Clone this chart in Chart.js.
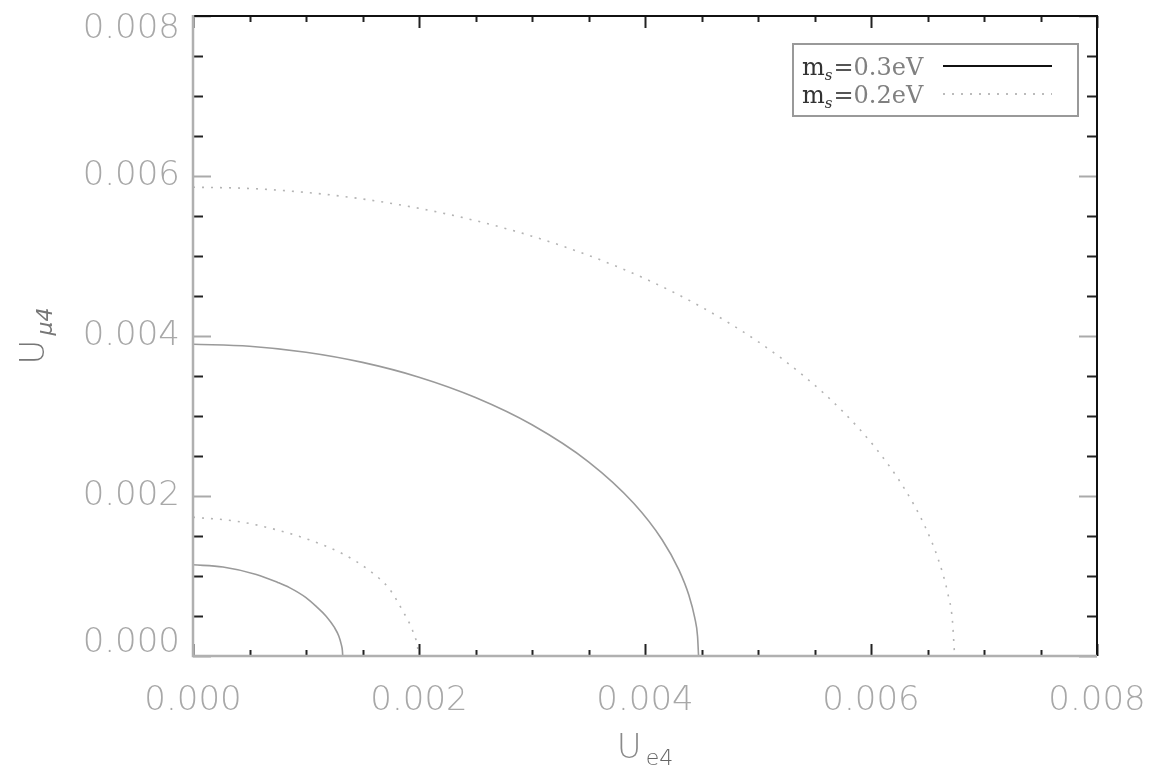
<!DOCTYPE html>
<html>
<head>
<meta charset="utf-8">
<script src="https://cdn.jsdelivr.net/npm/chart.js@4"></script>
<style>
  html, body { margin: 0; padding: 0; background: #fff; }
  #c { display: block; }
</style>
</head>
<body>
<canvas id="c" width="1154" height="767"></canvas>
<script>
// ---- data (values in units of 1e-3) ----
const seriesLabels = ['0.3eV', '0.2eV'];

// m_s = 0.3 eV, inner contour (solid)
const s03InnerX = [0.000, 0.265, 0.560, 0.750, 0.854, 1.000, 1.090, 1.180, 1.250, 1.290, 1.312, 1.322, 1.325];
const s03InnerY = [1.140, 1.113, 1.020, 0.920, 0.855, 0.730, 0.620, 0.495, 0.360, 0.250, 0.145, 0.068, 0.000];

// m_s = 0.3 eV, outer contour (solid)
const s03OuterX = [0.000, 0.500, 1.000, 1.500, 2.000, 2.500, 3.000, 3.500, 3.900, 4.150, 4.300, 4.390, 4.440, 4.465, 4.474];
const s03OuterY = [3.896, 3.872, 3.797, 3.670, 3.485, 3.231, 2.890, 2.427, 1.909, 1.456, 1.076, 0.752, 0.479, 0.247, 0.000];

// m_s = 0.2 eV, inner contour (dotted)
const s02InnerX = [0.000, 0.383, 0.706, 1.030, 1.325, 1.560, 1.737, 1.854, 1.943, 1.987, 1.996];
const s02InnerY = [1.735, 1.685, 1.590, 1.452, 1.277, 1.069, 0.840, 0.569, 0.319, 0.110, 0.000];

// m_s = 0.2 eV, outer contour (dotted)
const s02OuterX = [0.000, 0.500, 1.000, 1.500, 2.000, 2.500, 3.000, 3.500, 4.000, 4.500, 5.000, 5.400, 5.750, 6.050, 6.300, 6.480, 6.600, 6.680, 6.720, 6.740];
const s02OuterY = [5.860, 5.844, 5.795, 5.713, 5.596, 5.442, 5.248, 5.008, 4.717, 4.362, 3.930, 3.507, 3.057, 2.583, 2.083, 1.612, 1.188, 0.780, 0.450, 0.000];

const axisMin = 0, axisMax = 0.008, tickStep = 0.0005;
const tickLabelsShown = ['0.000', '0.002', '0.004', '0.006', '0.008'];

function pts(xs, ys) { return xs.map((x, i) => ({ x: x * 1e-3, y: ys[i] * 1e-3 })); }

const solidStyle = { borderColor: '#9a9a9a', borderWidth: 1.6, borderDash: [] };
const dotStyle = { borderColor: '#b4b4b4', borderWidth: 1.6, borderDash: [2, 7] };

const datasets = [
  Object.assign({ label: seriesLabels[0], data: pts(s03InnerX, s03InnerY) }, solidStyle),
  Object.assign({ label: seriesLabels[0], data: pts(s03OuterX, s03OuterY) }, solidStyle),
  Object.assign({ label: seriesLabels[1], data: pts(s02InnerX, s02InnerY) }, dotStyle),
  Object.assign({ label: seriesLabels[1], data: pts(s02OuterX, s02OuterY) }, dotStyle),
].map(d => Object.assign(d, { showLine: true, pointRadius: 0, fill: false, cubicInterpolationMode: 'monotone' }));

const isMajor = (v) => Math.abs(v / 0.002 - Math.round(v / 0.002)) < 1e-6;

// frame, inward ticks, axis titles, legend
const decor = {
  id: 'decor',
  afterDraw(chart) {
    const ctx = chart.ctx;
    const a = chart.chartArea;
    const xs = chart.scales.x, ys = chart.scales.y;
    ctx.save();
    ctx.textAlign = 'left';
    ctx.textBaseline = 'alphabetic';
    // ticks
    ctx.lineWidth = 2;
    xs.ticks.forEach(t => {
      const p = Math.round(xs.getPixelForValue(t.value)) + 0.5;
      const m = isMajor(t.value);
      ctx.strokeStyle = '#222';
      ctx.beginPath(); ctx.moveTo(p, a.bottom); ctx.lineTo(p, a.bottom - (m ? 12 : 6)); ctx.stroke();
      ctx.beginPath(); ctx.moveTo(p, a.top); ctx.lineTo(p, a.top + (m ? 12 : 6)); ctx.stroke();
    });
    ys.ticks.forEach(t => {
      const p = Math.round(ys.getPixelForValue(t.value)) + 0.5;
      const m = isMajor(t.value);
      ctx.strokeStyle = m ? '#aaa' : '#222';
      ctx.beginPath(); ctx.moveTo(a.left, p); ctx.lineTo(a.left + (m ? 18 : 10), p); ctx.stroke();
      ctx.beginPath(); ctx.moveTo(a.right, p); ctx.lineTo(a.right - (m ? 18 : 10), p); ctx.stroke();
    });
    // frame
    ctx.lineWidth = 2;
    ctx.strokeStyle = '#111';
    ctx.beginPath(); ctx.moveTo(a.left, a.top); ctx.lineTo(a.right, a.top); ctx.lineTo(a.right, a.bottom); ctx.stroke();
    ctx.lineWidth = 2.5;
    ctx.strokeStyle = '#b0b0b0';
    ctx.beginPath(); ctx.moveTo(a.left, a.top - 1); ctx.lineTo(a.left, a.bottom); ctx.lineTo(a.right, a.bottom); ctx.stroke();

    // x axis title  U_e4
    const cx = (a.left + a.right) / 2;
    ctx.font = '200 34px "DejaVu Sans"';
    const wU = ctx.measureText('U').width;
    ctx.font = '200 22px "DejaVu Sans"';
    const wS = ctx.measureText('e4').width;
    const x0 = cx - (wU + 4 + wS) / 2;
    ctx.fillStyle = '#8a8a8a';
    ctx.font = '200 34px "DejaVu Sans"';
    ctx.fillText('U', x0, 758);
    ctx.fillStyle = '#666';
    ctx.font = '200 22px "DejaVu Sans"';
    ctx.fillText('e4', x0 + wU + 4, 765);

    // y axis title  U_μ4
    ctx.save();
    ctx.translate(44, (a.top + a.bottom) / 2);
    ctx.rotate(-Math.PI / 2);
    ctx.font = '200 34px "DejaVu Sans"';
    const wU2 = ctx.measureText('U').width;
    ctx.font = 'italic 200 22px "DejaVu Sans"';
    const wS2 = ctx.measureText('μ4').width;
    const y0 = -(wU2 + 4 + wS2) / 2;
    ctx.fillStyle = '#777';
    ctx.font = '200 34px "DejaVu Sans"';
    ctx.fillText('U', y0, 0);
    ctx.font = 'italic 200 22px "DejaVu Sans"';
    ctx.fillText('μ4', y0 + wU2 + 4, 8);
    ctx.restore();

    // legend
    const lx = 793, ly = 44, lw = 285, lh = 72;
    ctx.fillStyle = '#fff';
    ctx.fillRect(lx, ly, lw, lh);
    ctx.strokeStyle = '#999';
    ctx.lineWidth = 2;
    ctx.strokeRect(lx, ly, lw, lh);
    const rows = [
      { label: seriesLabels[0], base: 75, color: '#111', dash: [], lineY: 66 },
      { label: seriesLabels[1], base: 103, color: '#bbb', dash: [2, 7], lineY: 94 },
    ];
    rows.forEach(r => {
      let tx = 802;
      ctx.fillStyle = '#333';
      ctx.font = '24px "DejaVu Serif"';
      ctx.fillText('m', tx, r.base);
      tx += ctx.measureText('m').width;
      ctx.font = 'italic 15px "DejaVu Serif"';
      ctx.fillText('s', tx, r.base + 5);
      tx += ctx.measureText('s').width + 1;
      ctx.font = '24px "DejaVu Serif"';
      ctx.fillStyle = '#555';
      ctx.fillText('=', tx, r.base);
      tx += ctx.measureText('=').width;
      ctx.fillStyle = '#808080';
      ctx.fillText(r.label, tx, r.base);
      ctx.strokeStyle = r.color;
      ctx.lineWidth = 2;
      ctx.setLineDash(r.dash);
      ctx.beginPath(); ctx.moveTo(943, r.lineY); ctx.lineTo(1052, r.lineY); ctx.stroke();
      ctx.setLineDash([]);
    });
    ctx.restore();
  }
};

new Chart(document.getElementById('c'), {
  type: 'scatter',
  data: { datasets },
  options: {
    responsive: false,
    devicePixelRatio: 1,
    animation: false,
    layout: { padding: { left: 0, right: 57, top: 16, bottom: 0 } },
    plugins: { legend: { display: false }, tooltip: { enabled: false } },
    scales: {
      x: {
        type: 'linear', min: axisMin, max: axisMax,
        grid: { display: false, drawTicks: false },
        border: { display: false },
        ticks: {
          stepSize: tickStep, autoSkip: false, maxRotation: 0, padding: 25,
          color: '#a8a8a8',
          font: { family: 'DejaVu Sans', size: 34, weight: 200, lineHeight: 1.2 },
          callback: (v) => { const s = v.toFixed(3); return isMajor(v) && tickLabelsShown.includes(s) ? s : ''; }
        },
        afterFit: (s) => { s.height = 111; s.paddingLeft = 0; s.paddingRight = 0; }
      },
      y: {
        type: 'linear', min: axisMin, max: axisMax,
        grid: { display: false, drawTicks: false },
        border: { display: false },
        ticks: {
          stepSize: tickStep, autoSkip: false, padding: 13,
          color: '#a8a8a8',
          font: { family: 'DejaVu Sans', size: 34, weight: 200, lineHeight: '26px' },
          callback: (v) => {
            const s = v.toFixed(3);
            if (!isMajor(v) || !tickLabelsShown.includes(s)) return '';
            if (s === tickLabelsShown[0]) return [s, ''];
            if (s === tickLabelsShown[tickLabelsShown.length - 1]) return ['', s];
            return s;
          }
        },
        afterFit: (s) => { s.width = 193; s.paddingTop = 0; s.paddingBottom = 0; }
      }
    }
  },
  plugins: [decor]
});
</script>
</body>
</html>
